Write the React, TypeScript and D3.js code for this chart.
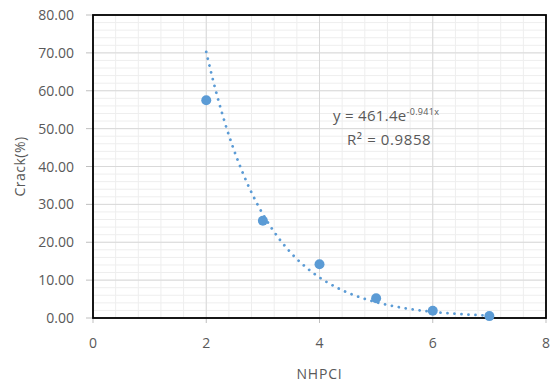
import React from "react";
import * as d3 from "d3";

const xValues = [2, 3, 4, 5, 6, 7];
const crackValues = [57.5, 25.7, 14.2, 5.2, 1.9, 0.5];
const xTicks = [0, 2, 4, 6, 8];
const yTicks = [0, 10, 20, 30, 40, 50, 60, 70, 80];
const trendA = 461.4;
const trendB = -0.941;
const r2 = 0.9858;

const W = 551;
const H = 387;
const M = { left: 93, right: 546, top: 15, bottom: 318 };

export default function App() {
  const x = d3.scaleLinear().domain([0, 8]).range([M.left, M.right]);
  const y = d3.scaleLinear().domain([0, 80]).range([M.bottom, M.top]);

  const minorX = d3.range(0, 8.0001, 0.4);
  const minorY = d3.range(0, 80.0001, 2);

  const trendX = d3.range(2, 7.0001, 0.05);
  const line = d3
    .line<number>()
    .x((d) => x(d))
    .y((d) => y(trendA * Math.exp(trendB * d)))
    .curve(d3.curveLinear);

  const font = "'Open Sans', 'Noto Sans', Arial, sans-serif";
  const grey = "#595959";

  return (
    <svg
      width={W}
      height={H}
      style={{ position: "absolute", left: 0, top: 0, background: "#fff" }}
      fontFamily={font}
    >
      <rect x={0} y={0} width={W} height={H} fill="#fff" />
      {minorX.map((v, i) => (
        <line key={"mx" + i} x1={x(v)} x2={x(v)} y1={M.top} y2={M.bottom} stroke="#eeeeee" strokeWidth={1} />
      ))}
      {minorY.map((v, i) => (
        <line key={"my" + i} x1={M.left} x2={M.right} y1={y(v)} y2={y(v)} stroke="#eeeeee" strokeWidth={1} />
      ))}
      {xTicks.map((v) => (
        <line key={"gx" + v} x1={x(v)} x2={x(v)} y1={M.top} y2={M.bottom} stroke="#d9d9d9" strokeWidth={1} />
      ))}
      {yTicks.map((v) => (
        <line key={"gy" + v} x1={M.left} x2={M.right} y1={y(v)} y2={y(v)} stroke="#d9d9d9" strokeWidth={1} />
      ))}
      {yTicks.map((v) => (
        <line key={"ty" + v} x1={M.left - 7} x2={M.left} y1={y(v)} y2={y(v)} stroke="#bfbfbf" strokeWidth={1} />
      ))}
      {xTicks.map((v) => (
        <line key={"tx" + v} x1={x(v)} x2={x(v)} y1={M.bottom} y2={M.bottom + 5} stroke="#bfbfbf" strokeWidth={1} />
      ))}
      <rect
        x={M.left}
        y={M.top}
        width={M.right - M.left}
        height={M.bottom - M.top}
        fill="none"
        stroke="#000"
        strokeWidth={1.8}
      />
      <path
        d={line(trendX) || ""}
        fill="none"
        stroke="#5b9bd5"
        strokeWidth={2.8}
        strokeLinecap="round"
        strokeDasharray="0.01 7"
      />
      {xValues.map((v, i) => (
        <circle key={"p" + i} cx={x(v)} cy={y(crackValues[i])} r={5} fill="#5b9bd5" />
      ))}
      {yTicks.map((v) => (
        <text key={"ly" + v} x={M.left - 19} y={y(v)} dy="0.36em" textAnchor="end" fontSize={14} fill={grey}>
          {v.toFixed(2)}
        </text>
      ))}
      {xTicks.map((v) => (
        <text key={"lx" + v} x={x(v)} y={M.bottom + 30} textAnchor="middle" fontSize={14} fill={grey}>
          {v}
        </text>
      ))}
      <text x={x(4)} y={379} textAnchor="middle" fontSize={14} letterSpacing={0.8} fill={grey}>
        NHPCI
      </text>
      <text
        transform={`translate(25,${(M.top + M.bottom) / 2}) rotate(-90)`}
        textAnchor="middle"
        fontSize={14}
        letterSpacing={0.5}
        fill={grey}
      >
        Crack(%)
      </text>
      <text x={333} y={121} fontSize={15} fill={grey} letterSpacing={0.3}>
        {`y = ${trendA}e`}
        <tspan dy={-6} fontSize={9}>{`${trendB}x`}</tspan>
      </text>
      <text x={347} y={145} fontSize={15} fill={grey} letterSpacing={0.6}>
        {`R² = ${r2}`}
      </text>
    </svg>
  );
}
